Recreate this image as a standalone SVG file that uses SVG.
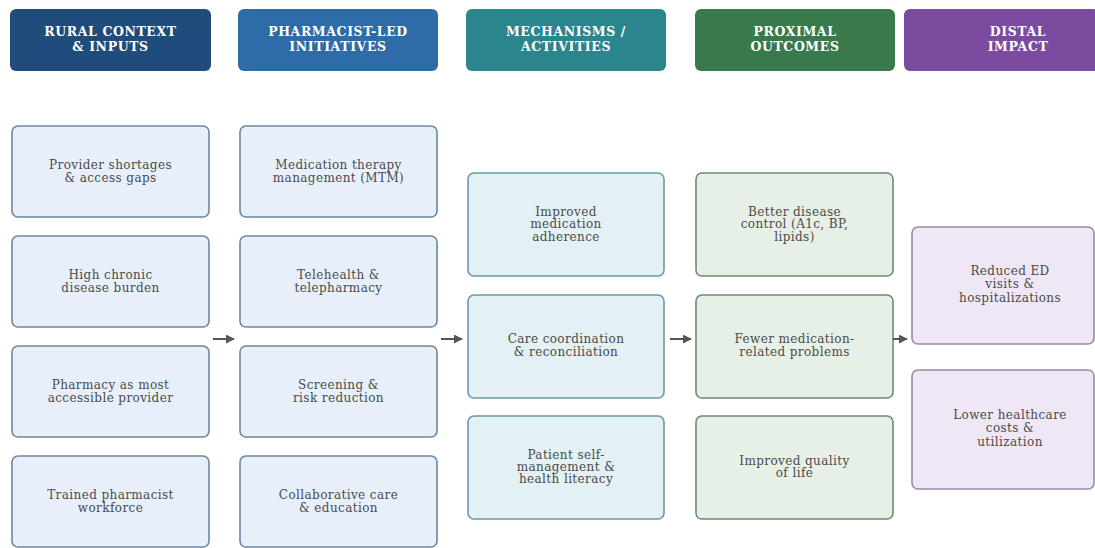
<svg xmlns="http://www.w3.org/2000/svg" width="1095" height="548" viewBox="0 0 1095 548">
<defs>
<style>
.hdr{stroke:none}
.ht{font-family:"DejaVu Serif","Liberation Serif",serif;font-weight:bold;font-size:12.5px;fill:#ffffff;text-anchor:middle;letter-spacing:0.6px}
.bt{font-family:"DejaVu Serif","Liberation Serif",serif;font-size:12px;fill:#4a4a4a;text-anchor:middle;letter-spacing:0.4px}
.c1{fill:#e7f0fa;stroke:#6d86a3;stroke-width:1.6}
.c3{fill:#e3f0f4;stroke:#6a99a4;stroke-width:1.6}
.c4{fill:#e6f0e7;stroke:#6e8a73;stroke-width:1.6}
.c5{fill:#efe7f6;stroke:#988aa8;stroke-width:1.6}
.conn{stroke:#555;stroke-width:2;fill:none}
</style>
<marker id="ah" viewBox="0 0 10 10" refX="9" refY="5" markerWidth="4.5" markerHeight="4.5" orient="auto"><path d="M0,0 L10,5 L0,10 z" fill="#555"/></marker>
</defs>
<rect width="1095" height="548" fill="#ffffff"/>
<g id="h1"><rect class="hdr" x="10" y="9" width="201" height="62" rx="6" fill="#1f4c7a"/><text class="ht" x="110.5" y="36">RURAL CONTEXT</text><text class="ht" x="110.5" y="51">&amp; INPUTS</text></g>
<g id="h2"><rect class="hdr" x="238" y="9" width="200" height="62" rx="6" fill="#2d6ca6"/><text class="ht" x="338" y="36">PHARMACIST-LED</text><text class="ht" x="338" y="51">INITIATIVES</text></g>
<g id="h3"><rect class="hdr" x="466" y="9" width="200" height="62" rx="6" fill="#2a858d"/><text class="ht" x="566" y="36">MECHANISMS /</text><text class="ht" x="566" y="51">ACTIVITIES</text></g>
<g id="h4"><rect class="hdr" x="695" y="9" width="200" height="62" rx="6" fill="#387a4c"/><text class="ht" x="795" y="36">PROXIMAL</text><text class="ht" x="795" y="51">OUTCOMES</text></g>
<g id="h5"><rect class="hdr" x="904" y="9" width="195" height="62" rx="6" fill="#7a4b9e"/><text class="ht" x="1018" y="36">DISTAL</text><text class="ht" x="1018" y="51">IMPACT</text></g>

<g id="n1"><rect class="c1" x="12" y="126" width="197" height="91" rx="6"/><text class="bt" x="110.5" y="169">Provider shortages</text><text class="bt" x="110.5" y="182">&amp; access gaps</text></g>
<g id="n2"><rect class="c1" x="12" y="236" width="197" height="91" rx="6"/><text class="bt" x="110.5" y="279">High chronic</text><text class="bt" x="110.5" y="292">disease burden</text></g>
<g id="n3"><rect class="c1" x="12" y="346" width="197" height="91" rx="6"/><text class="bt" x="110.5" y="389">Pharmacy as most</text><text class="bt" x="110.5" y="402">accessible provider</text></g>
<g id="n4"><rect class="c1" x="12" y="456" width="197" height="91" rx="6"/><text class="bt" x="110.5" y="499">Trained pharmacist</text><text class="bt" x="110.5" y="512">workforce</text></g>

<g id="n5"><rect class="c1" x="240" y="126" width="197" height="91" rx="6"/><text class="bt" x="338.5" y="169">Medication therapy</text><text class="bt" x="338.5" y="182">management (MTM)</text></g>
<g id="n6"><rect class="c1" x="240" y="236" width="197" height="91" rx="6"/><text class="bt" x="338.5" y="279">Telehealth &amp;</text><text class="bt" x="338.5" y="292">telepharmacy</text></g>
<g id="n7"><rect class="c1" x="240" y="346" width="197" height="91" rx="6"/><text class="bt" x="338.5" y="389">Screening &amp;</text><text class="bt" x="338.5" y="402">risk reduction</text></g>
<g id="n8"><rect class="c1" x="240" y="456" width="197" height="91" rx="6"/><text class="bt" x="338.5" y="499">Collaborative care</text><text class="bt" x="338.5" y="512">&amp; education</text></g>

<g id="n9"><rect class="c3" x="468" y="173" width="196" height="103" rx="6"/><text class="bt" x="566" y="216">Improved</text><text class="bt" x="566" y="228">medication</text><text class="bt" x="566" y="241">adherence</text></g>
<g id="n10"><rect class="c3" x="468" y="295" width="196" height="103" rx="6"/><text class="bt" x="566" y="343">Care coordination</text><text class="bt" x="566" y="356">&amp; reconciliation</text></g>
<g id="n11"><rect class="c3" x="468" y="416" width="196" height="103" rx="6"/><text class="bt" x="566" y="459">Patient self-</text><text class="bt" x="566" y="471">management &amp;</text><text class="bt" x="566" y="483">health literacy</text></g>

<g id="n12"><rect class="c4" x="696" y="173" width="197" height="103" rx="6"/><text class="bt" x="794.5" y="216">Better disease</text><text class="bt" x="794.5" y="228">control (A1c, BP,</text><text class="bt" x="794.5" y="241">lipids)</text></g>
<g id="n13"><rect class="c4" x="696" y="295" width="197" height="103" rx="6"/><text class="bt" x="794.5" y="343">Fewer medication-</text><text class="bt" x="794.5" y="356">related problems</text></g>
<g id="n14"><rect class="c4" x="696" y="416" width="197" height="103" rx="6"/><text class="bt" x="794.5" y="465">Improved quality</text><text class="bt" x="794.5" y="477">of life</text></g>

<g id="n15"><rect class="c5" x="912" y="227" width="182" height="117" rx="6"/><text class="bt" x="1010" y="275">Reduced ED</text><text class="bt" x="1010" y="288">visits &amp;</text><text class="bt" x="1010" y="302">hospitalizations</text></g>
<g id="n16"><rect class="c5" x="912" y="370" width="182" height="119" rx="6"/><text class="bt" x="1010" y="419">Lower healthcare</text><text class="bt" x="1010" y="432">costs &amp;</text><text class="bt" x="1010" y="446">utilization</text></g>

<g id="connectors">
<line class="conn" x1="213" y1="339" x2="234" y2="339" marker-end="url(#ah)"/>
<line class="conn" x1="441" y1="339" x2="462" y2="339" marker-end="url(#ah)"/>
<line class="conn" x1="670" y1="339" x2="691" y2="339" marker-end="url(#ah)"/>
<line class="conn" x1="893" y1="339" x2="907" y2="339" marker-end="url(#ah)"/>
</g>
</svg>
